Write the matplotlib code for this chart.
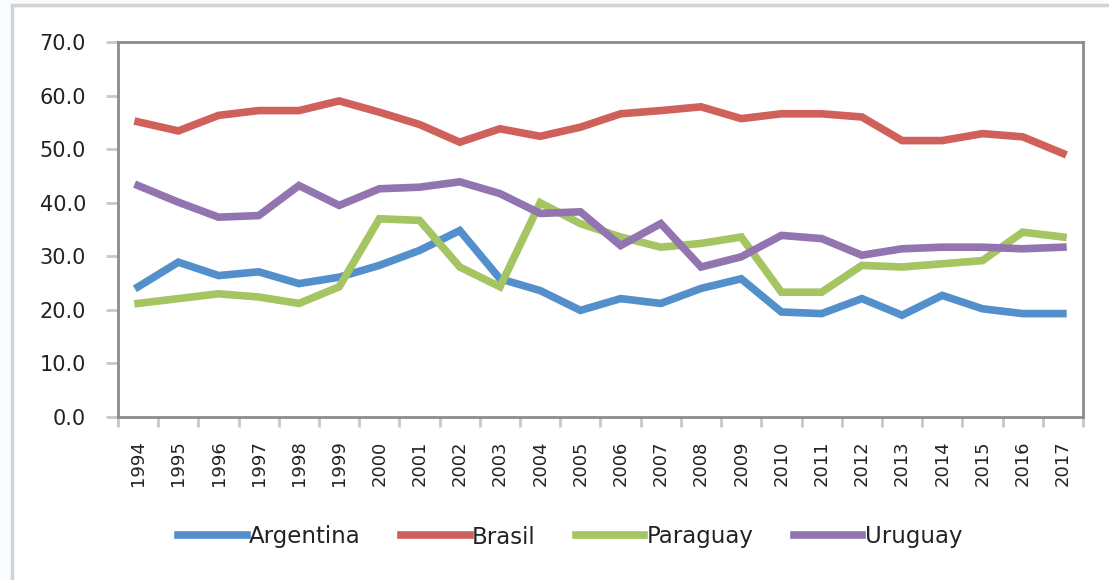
import matplotlib
matplotlib.use("Agg")
import matplotlib.pyplot as plt
from matplotlib.patches import Rectangle
from matplotlib.ticker import FormatStrFormatter

years = [str(y) for y in range(1994, 2018)]
argentina = [24.3, 28.9, 26.4, 27.1, 24.9, 26.1, 28.3, 31.1, 34.8, 25.8, 23.6, 19.9,
             22.1, 21.2, 24.0, 25.8, 19.6, 19.3, 22.1, 19.0, 22.7, 20.2, 19.3, 19.3]
brasil = [55.1, 53.4, 56.3, 57.2, 57.2, 59.0, 56.9, 54.6, 51.3, 53.8, 52.4, 54.1,
          56.6, 57.2, 57.9, 55.7, 56.6, 56.6, 56.0, 51.6, 51.6, 52.9, 52.3, 49.2]
paraguay = [21.2, 22.1, 23.0, 22.4, 21.2, 24.3, 37.0, 36.7, 28.0, 24.3, 40.0, 36.1,
            33.6, 31.7, 32.4, 33.6, 23.3, 23.3, 28.3, 28.0, 28.6, 29.2, 34.5, 33.6]
uruguay = [43.2, 40.1, 37.3, 37.6, 43.2, 39.5, 42.6, 42.9, 43.9, 41.7, 38.0, 38.3,
           32.0, 36.1, 28.0, 29.9, 33.9, 33.3, 30.2, 31.4, 31.7, 31.7, 31.4, 31.7]

series = [("Argentina", argentina, "#5390cb"),
          ("Brasil", brasil, "#d0605a"),
          ("Paraguay", paraguay, "#a5c462"),
          ("Uruguay", uruguay, "#9274b0")]

W, H = 1109, 580
fig = plt.figure(figsize=(W / 100, H / 100), dpi=100)
fig.patch.set_facecolor("#f9fcfe")

# outer chart area
bg = Rectangle((12 / W, -0.1), 1.2, (H - 5) / H + 0.1,
               transform=fig.transFigure, facecolor="white",
               edgecolor="#d2d2d2", linewidth=2.5, zorder=-10)
fig.patches.append(bg)

ax = fig.add_axes([118 / W, 1 - 417 / H, (1083 - 118) / W, (417 - 42) / H])
ax.set_zorder(5)
ax.set_facecolor("white")

x = list(range(len(years)))
for name, vals, col in series:
    ax.plot(x, vals, color=col, linewidth=5.5, label=name, solid_joinstyle="miter")

ax.set_xlim(-0.5, len(years) - 0.5)
ax.set_ylim(0, 70)
ax.set_yticks(range(0, 71, 10))
ax.yaxis.set_major_formatter(FormatStrFormatter("%.1f"))

ax.set_xticks(x)
ax.set_xticklabels(years, rotation=90)
ax.set_xticks([i - 0.5 for i in range(len(years) + 1)], minor=True)
ax.tick_params(axis="x", which="major", length=0, pad=17, labelsize=13, labelcolor="#222222")
ax.tick_params(axis="x", which="minor", length=7, width=2, color="#c8c8c8", direction="out")
ax.tick_params(axis="y", which="major", length=9, width=2, color="#c8c8c8", pad=14,
               labelsize=15, labelcolor="#222222")

for s in ax.spines.values():
    s.set_color("#8c8c8c")
    s.set_linewidth(2)

leg = fig.legend(loc="center", bbox_to_anchor=(0.514, 1 - 537 / H), ncol=4, frameon=False,
                 fontsize=16.5, handlelength=3.0, handletextpad=0.1, columnspacing=1.75)
leg.set_zorder(10)
for t in leg.get_texts():
    t.set_color("#222222")

fig.savefig("out.png", dpi=100, facecolor=fig.get_facecolor())
